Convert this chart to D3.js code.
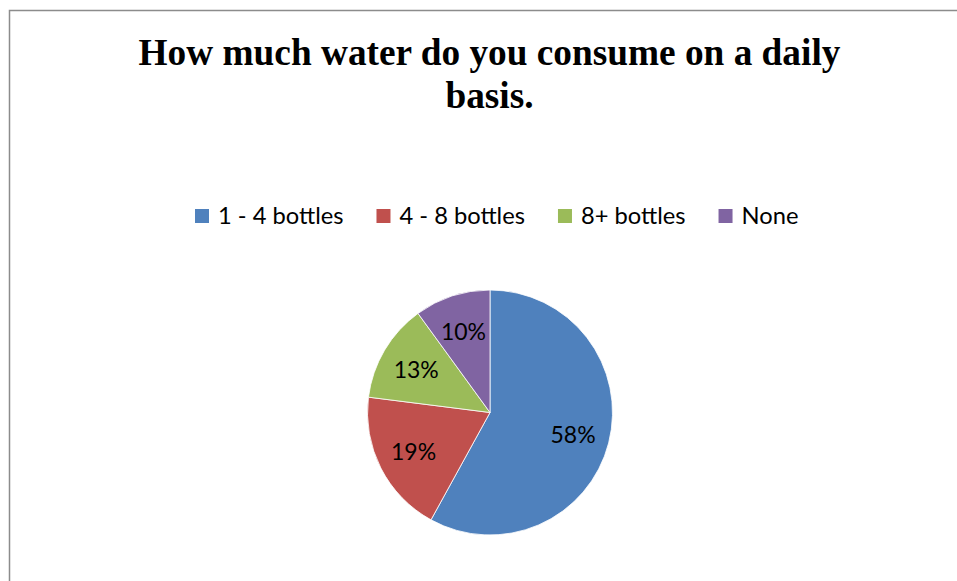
<!DOCTYPE html>
<html>
<head>
<meta charset="utf-8">
<script src="https://cdn.jsdelivr.net/npm/d3@7"></script>
<style>
  html, body { margin: 0; padding: 0; background: #fff; overflow: hidden; }
  svg { display: block; }
</style>
</head>
<body>
<svg id="chart" width="957" height="581"></svg>
<script>
const titleLines = ["How much water do you consume on a daily", "basis."];
const categories = ["1 - 4 bottles", "4 - 8 bottles", "8+ bottles", "None"];
const values = [58, 19, 13, 10];
const colors = ["#4F81BD", "#C0504D", "#9BBB59", "#8064A2"];

const W = 957, H = 581;
const svg = d3.select("#chart");

// chart frame (only left and top visible in reference)
svg.append("rect")
  .attr("x", 9.5).attr("y", 10.5)
  .attr("width", 1000).attr("height", 1000)
  .attr("fill", "none")
  .attr("stroke", "#8c8c8c")
  .attr("stroke-width", 1.5);

// title
const title = svg.append("text")
  .attr("text-anchor", "middle")
  .attr("font-family", "'Liberation Serif', 'Times New Roman', serif")
  .attr("font-weight", "bold")
  .attr("font-size", 37.3)
  .attr("fill", "#000");
titleLines.forEach((t, i) => {
  title.append("tspan")
    .attr("x", 489.5)
    .attr("y", 64.5 + i * 43.5)
    .text(t);
});

// legend
const legendFont = "Lato, 'Open Sans', sans-serif";
const legendSize = 23.7;
const legend = svg.append("g");
let lx = 195;
categories.forEach((c, i) => {
  const g = legend.append("g");
  g.append("rect")
    .attr("x", lx).attr("y", 209)
    .attr("width", 14).attr("height", 14)
    .attr("fill", colors[i]);
  const t = g.append("text")
    .attr("x", lx + 23).attr("y", 223.5)
    .attr("font-family", legendFont)
    .attr("font-size", legendSize)
    .attr("fill", "#000")
    .text(c);
  const w = t.node().getComputedTextLength();
  lx = lx + 23 + w + 33;
});

// pie
const cx = 490, cy = 412.5, r = 122.5;
const pie = d3.pie().sort(null).value(d => d).startAngle(0).endAngle(2 * Math.PI);
const arcs = pie(values);
const arc = d3.arc().innerRadius(0).outerRadius(r);
const labelArc = d3.arc().innerRadius(r * 0.7).outerRadius(r * 0.7);

const pg = svg.append("g").attr("transform", `translate(${cx},${cy})`);
pg.selectAll("path")
  .data(arcs)
  .join("path")
  .attr("d", arc)
  .attr("fill", (d, i) => colors[i])
  .attr("stroke", "#fff")
  .attr("stroke-width", 0.8);

pg.selectAll("text")
  .data(arcs)
  .join("text")
  .attr("transform", d => `translate(${labelArc.centroid(d)})`)
  .attr("text-anchor", "middle")
  .attr("dominant-baseline", "central")
  .attr("font-family", legendFont)
  .attr("font-size", 23)
  .attr("fill", "#000")
  .text(d => d.data + "%");
</script>
</body>
</html>
